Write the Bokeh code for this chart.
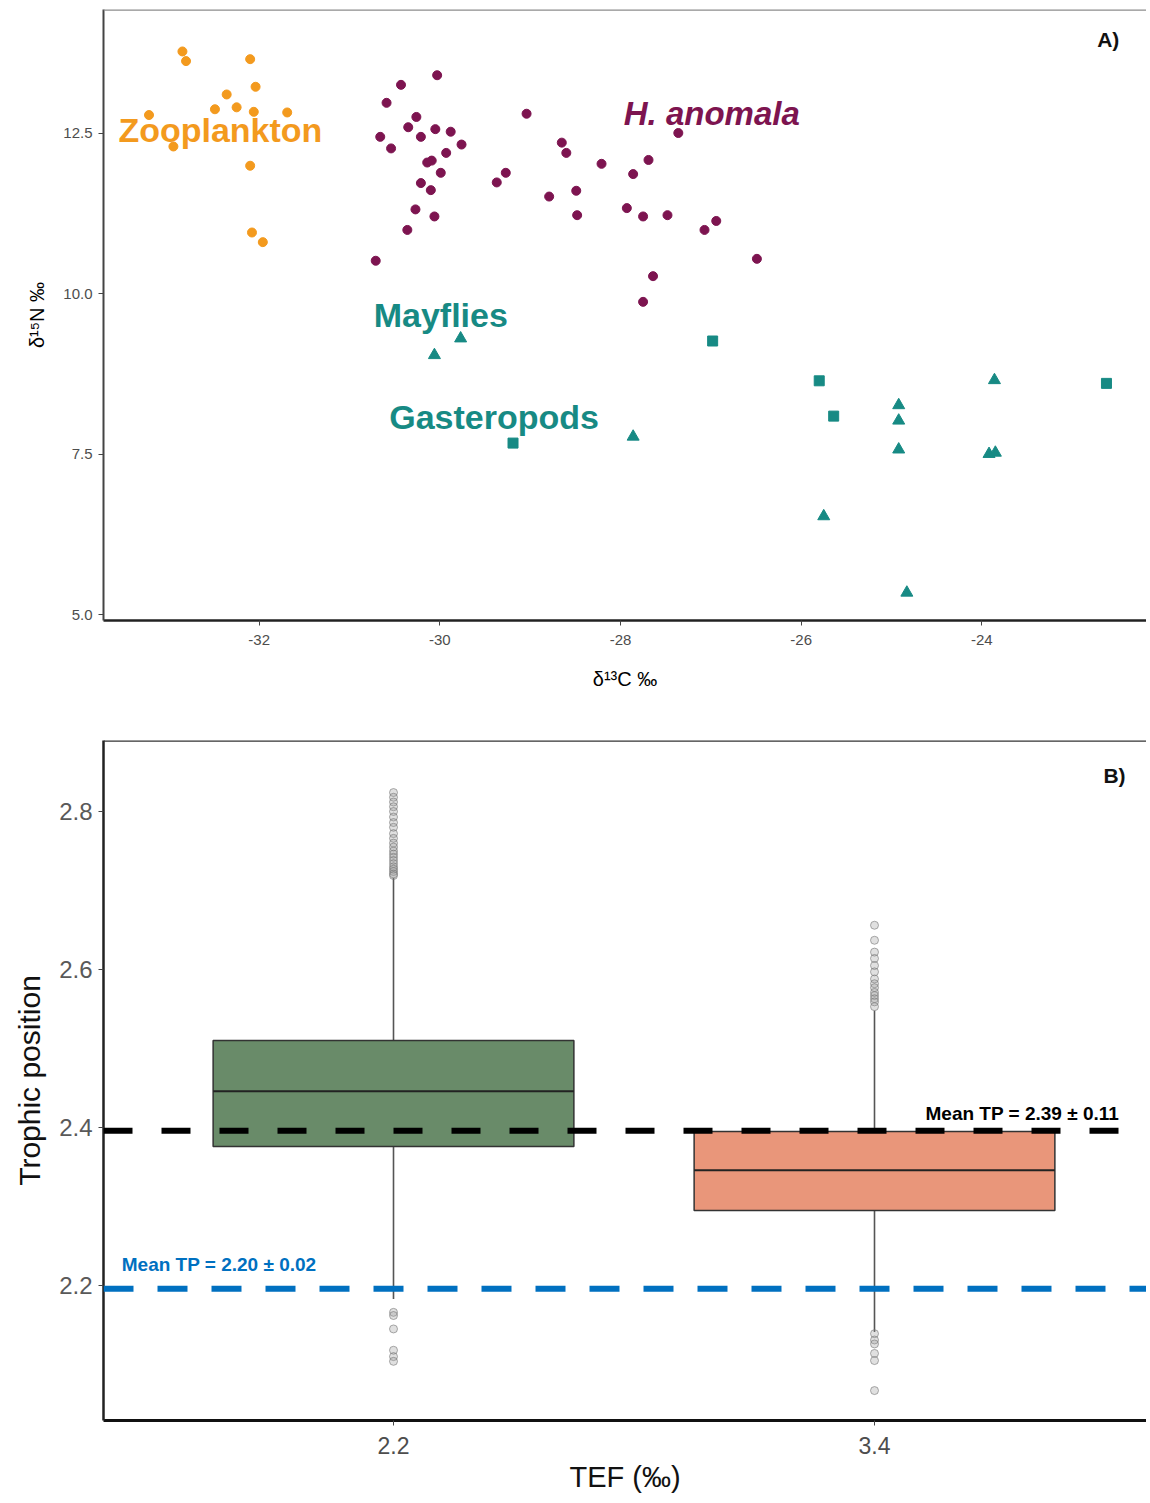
from bokeh.plotting import figure
from bokeh.models import FixedTicker, Span, Label, Range1d
from bokeh.layouts import column
from bokeh.embed import file_html
from bokeh.resources import INLINE

# ---------------- Panel A data (d13C, d15N) ----------------
zoo_d13c = [-32.85, -32.81, -32.10, -32.04, -32.36, -32.49, -32.25, -32.06, -31.69,
            -33.22, -32.95, -32.10, -32.08, -31.96]
zoo_d15n = [13.77, 13.62, 13.65, 13.22, 13.10, 12.87, 12.90, 12.83, 12.82,
            12.78, 12.29, 11.99, 10.95, 10.80]

hano_d13c = [-30.71, -30.36, -30.27, -30.06, -30.21, -30.10, -29.99, -30.09, -30.14,
             -29.93, -29.76, -30.66, -30.54, -30.35, -30.26, -30.21, -30.05, -29.88,
             -30.59, -30.43, -30.03, -29.04, -29.37, -29.27, -28.65, -28.60, -28.79,
             -28.49, -28.48, -28.21, -27.86, -27.69, -27.36, -27.93, -27.75, -27.48,
             -27.07, -26.94, -26.49, -27.64, -27.75]
hano_d15n = [10.51, 10.99, 11.31, 11.20, 11.72, 11.61, 11.88, 12.07, 12.04,
             12.19, 12.32, 12.44, 12.26, 12.59, 12.75, 12.44, 12.56, 12.52,
             12.97, 13.25, 13.40, 12.80, 11.73, 11.88, 12.35, 12.19, 11.51,
             11.60, 11.22, 12.02, 11.86, 12.08, 12.50, 11.33, 11.20, 11.22,
             10.99, 11.13, 10.54, 10.27, 9.87]

mayfly_d13c = [-30.06, -29.77, -27.86, -23.86, -24.92, -24.92, -24.92, -23.92, -23.85,
               -25.75, -24.83]
mayfly_d15n = [9.04, 9.30, 7.77, 8.65, 8.26, 8.02, 7.57, 7.50, 7.52, 6.53, 5.34]

gast_d13c = [-29.19, -26.98, -25.80, -25.64, -22.62]
gast_d15n = [7.67, 9.26, 8.64, 8.09, 8.60]

a_xticks = [-32, -30, -28, -26, -24]
a_xtick_labels = ["-32", "-30", "-28", "-26", "-24"]
a_yticks = [5.0, 7.5, 10.0, 12.5]
a_ytick_labels = ["5.0", "7.5", "10.0", "12.5"]

# ---------------- Panel B data (trophic position boxplots) ----------------
tef_categories = ["2.2", "3.4"]
tef_pos = [1, 2]
box_q1 = [2.376, 2.295]
box_median = [2.446, 2.346]
box_q3 = [2.510, 2.395]
whisker_low = [2.183, 2.141]
whisker_high = [2.716, 2.548]
box_colors = ["#698B69", "#E9967A"]
outliers_22 = [2.824, 2.818, 2.812, 2.806, 2.800, 2.793, 2.786, 2.780, 2.772, 2.766,
               2.760, 2.755, 2.750, 2.746, 2.742, 2.738, 2.734, 2.730, 2.727, 2.724,
               2.721, 2.719, 2.166, 2.162, 2.145, 2.118, 2.110, 2.104]
outliers_34 = [2.656, 2.637, 2.622, 2.614, 2.605, 2.597, 2.588, 2.582, 2.577, 2.571,
               2.567, 2.563, 2.559, 2.553, 2.139, 2.131, 2.126, 2.114, 2.105, 2.067]
mean_tp_values = [2.196, 2.396]
mean_tp_texts = ["Mean  TP = 2.20 \u00b1 0.02", "Mean  TP = 2.39 \u00b1 0.11"]
b_yticks = [2.2, 2.4, 2.6, 2.8]
b_ytick_labels = ["2.2", "2.4", "2.6", "2.8"]

ORANGE = "#F39A1E"
PURPLE = "#7D1450"
TEAL = "#178A84"
BLUE = "#0070C0"

FIG_W = 1146

# ================= Panel A =================
A_LEFT, A_TOP, A_FRAME_H, A_BOTTOM = 101, 9, 611, 76
xa0 = -32 - (259 - 103) / 90.5
xa1 = xa0 + (FIG_W - A_LEFT) / 90.5
ya0 = 5.0 - 6 / 64.2
ya1 = ya0 + A_FRAME_H / 64.2

pA = figure(width=FIG_W, height=A_TOP + A_FRAME_H + A_BOTTOM, output_backend="svg",
            toolbar_location=None,
            x_range=Range1d(xa0, xa1), y_range=Range1d(ya0, ya1),
            min_border_left=A_LEFT, min_border_right=0, min_border_top=A_TOP,
            min_border_bottom=A_BOTTOM)
pA.grid.visible = False
pA.outline_line_color = None
pA.background_fill_color = "white"
pA.border_fill_color = "white"

pA.scatter(zoo_d13c, zoo_d15n, marker="circle", size=9, color=ORANGE)
pA.scatter(hano_d13c, hano_d15n, marker="circle", size=9, color=PURPLE)
pA.scatter(mayfly_d13c, mayfly_d15n, marker="triangle", size=12, color=TEAL)
pA.scatter(gast_d13c, gast_d15n, marker="square", size=10, color=TEAL)

pA.add_layout(Span(location=ya1, dimension="width", line_color="#8C8C8C", line_width=2.5))

xa = pA.xaxis[0]
xa.ticker = FixedTicker(ticks=a_xticks)
xa.major_label_overrides = dict(zip(a_xticks, a_xtick_labels))
xa.axis_line_color = "#222222"
xa.axis_line_width = 2.5
xa.major_tick_line_color = "#444444"
xa.major_tick_out = 5
xa.major_tick_in = 0
xa.minor_tick_line_color = None
xa.major_label_text_font = "Liberation Sans"
xa.major_label_text_font_size = "15px"
xa.major_label_text_color = "#4D4D4D"
xa.major_label_standoff = 9
xa.axis_label = "\u03b4\u00b9\u00b3C \u2030"
xa.axis_label_text_font = "Liberation Sans"
xa.axis_label_text_font_style = "normal"
xa.axis_label_text_font_size = "20px"
xa.axis_label_text_color = "#000000"
xa.axis_label_standoff = 20

ya = pA.yaxis[0]
ya.ticker = FixedTicker(ticks=a_yticks)
ya.major_label_overrides = dict(zip(a_yticks, a_ytick_labels))
ya.axis_line_color = "#444444"
ya.axis_line_width = 2
ya.major_tick_line_color = "#444444"
ya.major_tick_out = 5
ya.major_tick_in = 0
ya.minor_tick_line_color = None
ya.major_label_text_font = "Liberation Sans"
ya.major_label_text_font_size = "15px"
ya.major_label_text_color = "#4D4D4D"
ya.major_label_standoff = 6
ya.axis_label = "\u03b4\u00b9\u2075N \u2030"
ya.axis_label_text_font = "Liberation Sans"
ya.axis_label_text_font_style = "normal"
ya.axis_label_text_font_size = "20px"
ya.axis_label_text_color = "#000000"
ya.axis_label_standoff = 12

def lab(p, x, y, text, color, size, style="bold", align="center"):
    p.add_layout(Label(x=x, y=y, text=text, text_color=color, text_font="Liberation Sans",
                       text_font_size=size, text_font_style=style, text_align=align,
                       text_baseline="middle"))

lab(pA, -32.43, 12.55, "Zooplankton", ORANGE, "34px")
lab(pA, -26.99, 12.80, "H. anomala", PURPLE, "33px", "bold italic")
lab(pA, -29.99, 9.665, "Mayflies", TEAL, "34px")
lab(pA, -29.40, 8.084, "Gasteropods", TEAL, "34px")
lab(pA, -22.60, 13.95, "A)", "#111111", "21px")

# ================= Panel B =================
B_LEFT, B_TOP, B_FRAME_H, B_BOTTOM = 103, 44, 680, 80
xb0 = 1 - (395 - 105) / 481
xb1 = xb0 + (FIG_W - B_LEFT) / 481
yb0 = 2.2 - 135 / 790
yb1 = yb0 + B_FRAME_H / 790

pB = figure(width=FIG_W, height=B_TOP + B_FRAME_H + B_BOTTOM, output_backend="svg",
            toolbar_location=None,
            x_range=Range1d(xb0, xb1), y_range=Range1d(yb0, yb1),
            min_border_left=B_LEFT, min_border_right=0, min_border_top=B_TOP,
            min_border_bottom=B_BOTTOM)
pB.grid.visible = False
pB.outline_line_color = None
pB.background_fill_color = "white"
pB.border_fill_color = "white"

half_w = 0.75 / 2
pB.segment(x0=tef_pos, y0=box_q3, x1=tef_pos, y1=whisker_high, line_color="#555555", line_width=1.6)
pB.segment(x0=tef_pos, y0=box_q1, x1=tef_pos, y1=whisker_low, line_color="#555555", line_width=1.6)
pB.vbar(x=tef_pos, width=0.75, bottom=box_q1, top=box_q3, fill_color=box_colors,
        line_color="#333333", line_width=1.5)
pB.segment(x0=[p - half_w for p in tef_pos], y0=box_median,
           x1=[p + half_w for p in tef_pos], y1=box_median, line_color="#222222", line_width=2)
pB.scatter([tef_pos[0]] * len(outliers_22), outliers_22, marker="circle", size=8,
           fill_color="#999999", fill_alpha=0.3, line_color="#777777", line_alpha=0.6)
pB.scatter([tef_pos[1]] * len(outliers_34), outliers_34, marker="circle", size=8,
           fill_color="#999999", fill_alpha=0.3, line_color="#777777", line_alpha=0.6)

pB.add_layout(Span(location=mean_tp_values[0], dimension="width", line_color=BLUE,
                   line_width=6, line_dash="30 24"))
pB.add_layout(Span(location=mean_tp_values[1], dimension="width", line_color="#000000",
                   line_width=6, line_dash="29 29"))
pB.add_layout(Span(location=yb1, dimension="width", line_color="#333333", line_width=2.5))

lab(pB, 0.435, 2.227, mean_tp_texts[0], BLUE, "19px", "bold", "left")
lab(pB, 2.106, 2.418, mean_tp_texts[1], "#000000", "19px", "bold", "left")
lab(pB, 2.499, 2.846, "B)", "#111111", "21px")

xb = pB.xaxis[0]
xb.ticker = FixedTicker(ticks=tef_pos)
xb.major_label_overrides = dict(zip(tef_pos, tef_categories))
xb.axis_line_color = "#111111"
xb.axis_line_width = 3
xb.major_tick_line_color = "#444444"
xb.major_tick_out = 5
xb.major_tick_in = 0
xb.minor_tick_line_color = None
xb.major_label_text_font = "Liberation Sans"
xb.major_label_text_font_size = "23px"
xb.major_label_text_color = "#4D4D4D"
xb.major_label_standoff = 11
xb.axis_label = "TEF (\u2030)"
xb.axis_label_text_font = "Liberation Sans"
xb.axis_label_text_font_style = "normal"
xb.axis_label_text_font_size = "29px"
xb.axis_label_text_color = "#111111"
xb.axis_label_standoff = 4

yb = pB.yaxis[0]
yb.ticker = FixedTicker(ticks=b_yticks)
yb.major_label_overrides = dict(zip(b_yticks, b_ytick_labels))
yb.axis_line_color = "#222222"
yb.axis_line_width = 2.5
yb.major_tick_line_color = "#444444"
yb.major_tick_out = 5
yb.major_tick_in = 0
yb.minor_tick_line_color = None
yb.major_label_text_font = "Liberation Sans"
yb.major_label_text_font_size = "24px"
yb.major_label_text_color = "#595959"
yb.major_label_standoff = 6
yb.axis_label = "Trophic position"
yb.axis_label_text_font = "Liberation Sans"
yb.axis_label_text_font_style = "normal"
yb.axis_label_text_font_size = "30px"
yb.axis_label_text_color = "#111111"
yb.axis_label_standoff = 10

layout = column(pA, pB, spacing=0)
open("out.html", "w").write(file_html(layout, INLINE))
